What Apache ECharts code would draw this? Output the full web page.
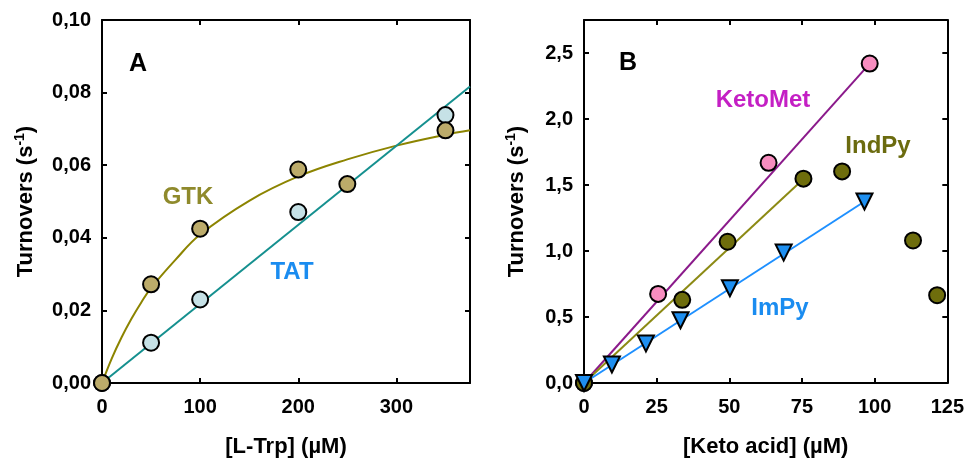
<!DOCTYPE html>
<html>
<head>
<meta charset="utf-8">
<script src="https://cdn.jsdelivr.net/npm/echarts@6/dist/echarts.min.js"></script>
<style>
html,body{margin:0;padding:0;background:#fff;}
#c{width:967px;height:463px;}
</style>
</head>
<body>
<div id="c"></div>
<script>
// ---- Panel A data ----
const gtkX = [0, 50, 100, 200, 250, 350];
const gtkY = [0, 0.0272, 0.0425, 0.0588, 0.0548, 0.0696];
const tatX = [0, 50, 100, 200, 350];
const tatY = [0, 0.0111, 0.0230, 0.0471, 0.0738];
const gtkFitX = [0, 10, 20, 30, 40, 50, 75, 100, 150, 200, 250, 300, 350, 375];
const gtkFitY = [0, 0.0068, 0.0126, 0.0177, 0.0222, 0.0262, 0.0340, 0.0409, 0.0502, 0.0569, 0.0616, 0.0654, 0.0684, 0.0696];
const tatFitX = [0, 375];
const tatFitY = [0, 0.0817];
const xTicksA = [0, 100, 200, 300];
const yTicksA = ['0,00', '0,02', '0,04', '0,06', '0,08', '0,10'];

// ---- Panel B data ----
const ketoMetX = [0, 25.5, 63.5, 98.3];
const ketoMetY = [0, 0.675, 1.668, 2.42];
const ketoMetFitX = [0, 98.3];
const ketoMetFitY = [0, 2.42];
const indPyX = [0, 33.8, 49.4, 75.5, 88.8, 113.2, 121.5];
const indPyY = [0, 0.63, 1.07, 1.548, 1.603, 1.08, 0.665];
const indPyFitX = [0, 75.5];
const indPyFitY = [0, 1.545];
const imPyX = [0, 9.6, 21.3, 33.2, 50.2, 68.7, 96.5];
const imPyY = [0, 0.14, 0.30, 0.475, 0.718, 0.988, 1.375];
const imPyFitX = [0, 96.5];
const imPyFitY = [0, 1.375];
const xTicksB = [0, 25, 50, 75, 100, 125];
const yTicksB = ['0,0', '0,5', '1,0', '1,5', '2,0', '2,5'];

const zip = (xs, ys) => xs.map((x, i) => [x, ys[i]]);
const FONT = '"Liberation Sans", Arial, sans-serif';
const comma = (v, d) => v.toFixed(d).replace('.', ',');

function axisX(grid, max, interval, pos, showLabel, name) {
  return {
    type: 'value', gridIndex: grid, min: 0, max: max, interval: interval, position: pos,
    axisLine: {show: true, onZero: false, lineStyle: {color: '#000', width: 2}},
    axisTick: {show: true, inside: true, length: 5, lineStyle: {color: '#000', width: 2}},
    splitLine: {show: false},
    axisLabel: {show: showLabel, showMaxLabel: max % interval === 0, margin: 14,
      fontFamily: FONT, fontWeight: 'bold', fontSize: 20, color: '#000'},
    name: name, nameLocation: 'middle', nameGap: 53,
    nameTextStyle: {fontFamily: FONT, fontWeight: 'bold', fontSize: 22, color: '#000'}
  };
}
function axisY(grid, max, interval, pos, showLabel, digits, name, gap) {
  return {
    type: 'value', gridIndex: grid, min: 0, max: max, interval: interval, position: pos,
    axisLine: {show: true, onZero: false, lineStyle: {color: '#000', width: 2}},
    axisTick: {show: true, inside: true, length: 5, lineStyle: {color: '#000', width: 2}},
    splitLine: {show: false},
    axisLabel: {show: showLabel, showMaxLabel: Math.abs(max / interval - Math.round(max / interval)) < 1e-9,
      margin: 11, formatter: v => comma(v, digits),
      fontFamily: FONT, fontWeight: 'bold', fontSize: 20, color: '#000'},
    name: name, nameLocation: 'middle', nameGap: gap, nameRotate: 90,
    nameTextStyle: {fontFamily: FONT, fontWeight: 'bold', fontSize: 22, color: '#000',
      rich: {sup: {fontFamily: FONT, fontWeight: 'bold', fontSize: 14, color: '#000', verticalAlign: 'top', padding: [0, 0, 11, 0]}}}
  };
}

function scatter(name, xa, ya, data, fill, symbol, size, rotate) {
  return {name: name, type: 'scatter', xAxisIndex: xa, yAxisIndex: ya, data: data,
    symbol: symbol, symbolSize: size, symbolRotate: rotate || 0, z: 5,
    itemStyle: {color: fill, borderColor: '#000', borderWidth: 2, opacity: 1}};
}
function fit(name, xa, ya, data, color, smooth) {
  return {name: name, type: 'line', xAxisIndex: xa, yAxisIndex: ya, data: data,
    showSymbol: false, symbol: 'none', smooth: smooth ? 0.4 : false, z: 3,
    lineStyle: {color: color, width: 2}};
}

const chart = echarts.init(document.getElementById('c'), null, {renderer: 'canvas'});
const txt = (x, y, s, color, size) => ({type: 'text', x: x, y: y, z: 10,
  style: {text: s, fill: color, font: 'bold ' + size + 'px ' + FONT, textAlign: 'center', textVerticalAlign: 'middle'}});

chart.setOption({
  animation: false,
  backgroundColor: '#fff',
  grid: [
    {left: 102, top: 20, right: 497, bottom: 76, containLabel: false},
    {left: 584, top: 20, right: 16, bottom: 76, containLabel: false}
  ],
  xAxis: [
    axisX(0, 375, 100, 'bottom', true, '[L-Trp] (\u00b5M)'),
    axisX(0, 375, 100, 'top', false, ''),
    axisX(1, 125, 25, 'bottom', true, '[Keto acid] (\u00b5M)'),
    axisX(1, 125, 25, 'top', false, '')
  ],
  yAxis: [
    axisY(0, 0.1, 0.02, 'left', true, 2, 'Turnovers (s{sup|-1})', 64),
    axisY(0, 0.1, 0.02, 'right', false, 2, '', 0),
    axisY(1, 2.75, 0.5, 'left', true, 1, 'Turnovers (s{sup|-1})', 55),
    axisY(1, 2.75, 0.5, 'right', false, 1, '', 0)
  ],
  series: [
    fit('GTK fit', 0, 0, zip(gtkFitX, gtkFitY), '#8c8400', true),
    fit('TAT fit', 0, 0, zip(tatFitX, tatFitY), '#15908f', false),
    scatter('TAT', 0, 0, zip(tatX, tatY), '#c6e1e6', 'circle', 16),
    scatter('GTK', 0, 0, zip(gtkX, gtkY), '#bcab6a', 'circle', 16),
    fit('KetoMet fit', 2, 2, zip(ketoMetFitX, ketoMetFitY), '#8b1a8b', false),
    fit('IndPy fit', 2, 2, zip(indPyFitX, indPyFitY), '#8c8a14', false),
    fit('ImPy fit', 2, 2, zip(imPyFitX, imPyFitY), '#1e90ff', false),
    scatter('KetoMet', 2, 2, zip(ketoMetX, ketoMetY), '#f78dbf', 'circle', 16),
    scatter('IndPy', 2, 2, zip(indPyX, indPyY), '#6e6d0c', 'circle', 16),
    scatter('ImPy', 2, 2, zip(imPyX, imPyY), '#1e8ff0', 'triangle', 16, 180)
  ],
  graphic: [
    txt(138, 64, 'A', '#000', 25),
    txt(628, 63, 'B', '#000', 25),
    txt(188, 197, 'GTK', '#8f8a2c', 24),
    txt(292, 272, 'TAT', '#1a8cf0', 24),
    txt(763, 100, 'KetoMet', '#c41fc4', 24),
    txt(878, 146, 'IndPy', '#6b6b0f', 24),
    txt(780, 308, 'ImPy', '#1a8cf0', 24)
  ]
});
</script>
</body>
</html>
